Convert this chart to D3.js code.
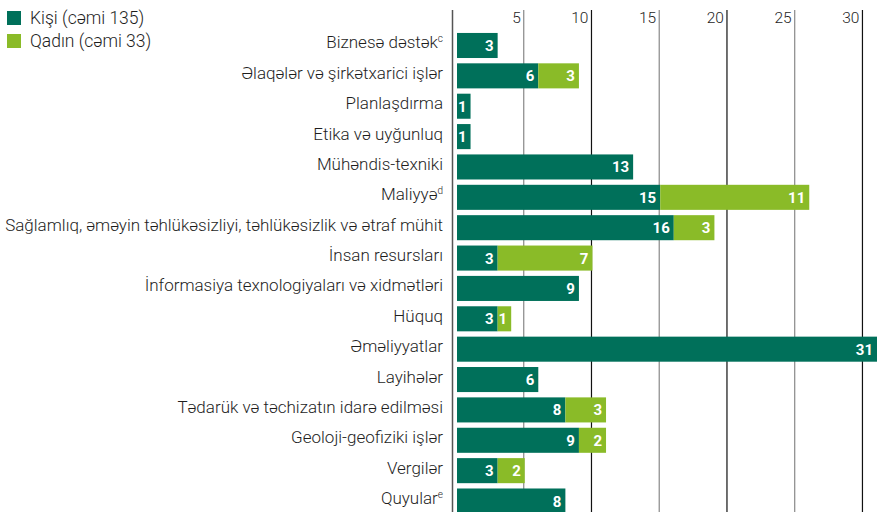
<!DOCTYPE html>
<html>
<head>
<meta charset="utf-8">
<script src="https://cdn.jsdelivr.net/npm/d3@7"></script>
<style>
  body { margin: 0; background: #fff; }
  svg text { font-family: Roboto, "Liberation Sans", sans-serif; }
  .cat { font-size: 17px; fill: #1e1e1e; font-weight: 300; }
  .tick-label { font-size: 15.5px; fill: #1e1e1e; font-weight: 300; }
  .leg { font-size: 17.5px; fill: #1e1e1e; font-weight: 300; }
  .val { font-size: 15px; font-weight: bold; fill: #fff; }
</style>
</head>
<body>
<script>
    const CANVAS = {WIDTH: 883, HEIGHT: 512};
    const COLORS = {men: "#00705a", women: "#8abb28"};

    // data
    const categories = [
        "Biznesə dəstək", "Əlaqələr və şirkətxarici işlər", "Planlaşdırma", "Etika və uyğunluq",
        "Mühəndis-texniki", "Maliyyə", "Sağlamlıq, əməyin təhlükəsizliyi, təhlükəsizlik və ətraf mühit",
        "İnsan resursları", "İnformasiya texnologiyaları və xidmətləri", "Hüquq", "Əməliyyatlar",
        "Layihələr", "Tədarük və təchizatın idarə edilməsi", "Geoloji-geofiziki işlər", "Vergilər", "Quyular"
    ];
    const footnotes = ["c", "", "", "", "", "d", "", "", "", "", "", "", "", "", "", "e"];
    const men   = [3, 6, 1, 1, 13, 15, 16, 3, 9, 3, 31, 6, 8, 9, 3, 8];
    const women = [0, 3, 0, 0, 0, 11, 3, 7, 0, 1, 0, 0, 3, 2, 2, 0];
    const ticks = [5, 10, 15, 20, 25, 30];
    const legendItems = ["Kişi (cəmi 135)", "Qadın (cəmi 33)"];

    var svg = d3.select("body").append("svg")
        .attr("width", CANVAS.WIDTH)
        .attr("height", CANVAS.HEIGHT);

    var x = d3.scaleLinear().domain([0, 31]).range([457, 877]);
    var y = d3.scaleBand().domain(categories).range([30.3, 516.2])
        .paddingInner(0.175).paddingOuter(0.0875);

    // grid lines
    svg.append("g").selectAll("line")
        .data(ticks)
        .enter()
        .append("line")
        .attr("x1", d => x(d) - 1).attr("x2", d => x(d) - 1)
        .attr("y1", 10).attr("y2", CANVAS.HEIGHT)
        .attr("stroke", d => d % 10 === 0 ? "#111" : "#888")
        .attr("stroke-width", 1.2);

    svg.append("g").selectAll("text")
        .data(ticks)
        .enter()
        .append("text")
        .attr("class", "tick-label")
        .attr("x", d => x(d) - 4)
        .attr("y", 23)
        .attr("text-anchor", "end")
        .text(d => d);

    // axis line
    svg.append("line")
        .attr("x1", 452.5).attr("x2", 452.5)
        .attr("y1", 10).attr("y2", CANVAS.HEIGHT)
        .attr("stroke", "#555").attr("stroke-width", 1.5);

    var rows = categories.map((c, i) => ({cat: c, note: footnotes[i], men: men[i], women: women[i]}));

    var row = svg.append("g").selectAll("g")
        .data(rows)
        .enter()
        .append("g");

    // men bars
    row.append("rect")
        .attr("x", x(0))
        .attr("y", d => y(d.cat))
        .attr("width", d => x(d.men) - x(0))
        .attr("height", y.bandwidth())
        .attr("fill", COLORS.men);

    // women bars
    row.filter(d => d.women > 0).append("rect")
        .attr("x", d => x(d.men))
        .attr("y", d => y(d.cat))
        .attr("width", d => x(d.men + d.women) - x(d.men))
        .attr("height", y.bandwidth())
        .attr("fill", COLORS.women);

    // value labels
    row.append("text")
        .attr("class", "val")
        .attr("x", d => x(d.men) - 4)
        .attr("y", d => y(d.cat) + y.bandwidth() / 2 + 5.5)
        .attr("text-anchor", "end")
        .text(d => d.men);

    row.filter(d => d.women > 0).append("text")
        .attr("class", "val")
        .attr("x", d => x(d.men + d.women) - 4)
        .attr("y", d => y(d.cat) + y.bandwidth() / 2 + 5.5)
        .attr("text-anchor", "end")
        .text(d => d.women);

    // category labels
    var lbl = row.append("text")
        .attr("class", "cat")
        .attr("x", 443)
        .attr("y", d => y(d.cat) + y.bandwidth() / 2 + 3)
        .attr("text-anchor", "end");
    lbl.append("tspan").text(d => d.cat);
    lbl.append("tspan")
        .attr("font-size", "10px")
        .attr("dy", -6)
        .text(d => d.note);

    // legend
    var legend = svg.append("g").selectAll("g")
        .data(legendItems)
        .enter()
        .append("g")
        .attr("transform", (d, i) => "translate(7," + (11 + i * 23) + ")");
    legend.append("rect")
        .attr("width", 14).attr("height", 14)
        .attr("fill", (d, i) => i === 0 ? COLORS.men : COLORS.women);
    legend.append("text")
        .attr("class", "leg")
        .attr("x", 23)
        .attr("y", 13)
        .text(d => d);
</script>
</body>
</html>
